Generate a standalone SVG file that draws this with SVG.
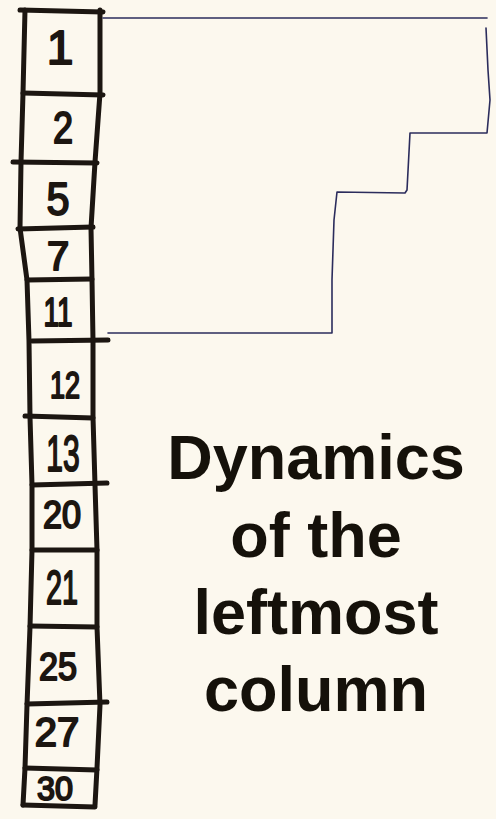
<svg xmlns="http://www.w3.org/2000/svg" width="496" height="819" viewBox="0 0 496 819">
<style>
.bg{fill:#fcf8ee}
.col{fill:none;stroke:#1c1611;stroke-width:5;stroke-linecap:round;stroke-linejoin:round}
.num{font-family:"Liberation Sans",Arial,sans-serif;fill:#1c1611;stroke:#1c1611;stroke-width:2;stroke-linejoin:round;text-anchor:middle}
.stair{fill:none;stroke:#2b2c5c;stroke-width:1.6;stroke-linejoin:round;stroke-linecap:round}
.title{font-family:"Liberation Sans",Arial,sans-serif;font-weight:bold;font-size:63px;fill:#15110a;text-anchor:middle}
</style>
<rect class="bg" x="0" y="0" width="496" height="819"/>
<g id="column">
<path class="col" d="M25,10 L23,93 L21,162 L20,228 L27,280 L29,341 L30,417 L32,485 L32,550 L30,627 L27,705 L25,768 L23,805"/>
<path class="col" d="M100,10 L100,93 L95,162 L91,228 L92,280 L93,341 L93,417 L95,485 L97,550 L97,627 L100,705 L97,768 L95,805"/>
<path class="col" d="M20,10 L103,12"/>
<path class="col" d="M23,93 L103,95"/>
<path class="col" d="M13,162 L97,163"/>
<path class="col" d="M18,229 L93,227"/>
<path class="col" d="M27,280 L92,279"/>
<path class="col" d="M32,341 L108,340"/>
<path class="col" d="M25,416 L93,418"/>
<path class="col" d="M32,485 L107,483"/>
<path class="col" d="M32,550 L97,550"/>
<path class="col" d="M30,626 L97,627"/>
<path class="col" d="M27,704 L107,702"/>
<path class="col" d="M25,768 L97,770"/>
<path class="col" d="M23,805 L95,807"/>
</g>
<g id="labels">
<text class="num" font-size="48" transform="translate(60,64)">1</text>
<text class="num" font-size="44" transform="translate(63,143) scale(0.82,1)">2</text>
<text class="num" font-size="46" transform="translate(58,215) scale(0.9,1)">5</text>
<text class="num" font-size="40" transform="translate(58,270)">7</text>
<text class="num" font-size="40" transform="translate(58,326) scale(0.7,1)">11</text>
<text class="num" font-size="36" transform="translate(65,398) scale(0.75,1)">12</text>
<text class="num" font-size="50" transform="translate(63,471) scale(0.6,1)">13</text>
<text class="num" font-size="38" transform="translate(62,528) scale(0.9,1)">20</text>
<text class="num" font-size="48" transform="translate(62,604) scale(0.6,1)">21</text>
<text class="num" font-size="38" transform="translate(58,680) scale(0.9,1)">25</text>
<text class="num" font-size="40" transform="translate(57,746)">27</text>
<text class="num" font-size="34" transform="translate(55,800) scale(0.95,1)">30</text>
</g>
<g id="connectors">
<path class="stair" d="M103,18 L487,18"/>
<path class="stair" d="M486,28 L488,70 L490,100 L487,133 L410,133 L407,190 L405,193 L337,192 L334,220 L332,280 L332,333 L108,333"/>
</g>
<g id="title">
<text class="title" x="316" y="479">Dynamics</text>
<text class="title" x="316" y="557">of the</text>
<text class="title" x="316" y="634">leftmost</text>
<text class="title" x="316" y="711">column</text>
</g>
</svg>
